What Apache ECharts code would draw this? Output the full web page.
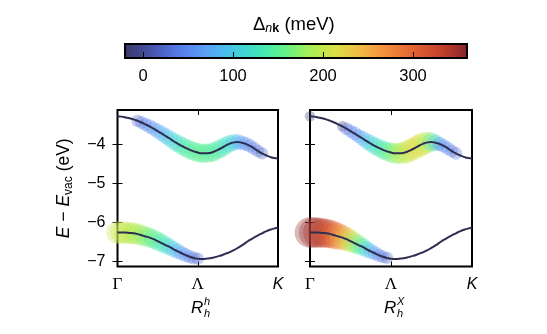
<!DOCTYPE html>
<html>
<head>
<meta charset="utf-8">
<script src="https://cdn.jsdelivr.net/npm/echarts@6/dist/echarts.min.js"></script>
<style>
html,body{margin:0;padding:0;background:#fff;}
#chart{width:547px;height:334px;}
</style>
</head>
<body>
<div id="chart"></div>
<script>
// ---- data ----
const kx = [0,0.025,0.05,0.075,0.1,0.125,0.15,0.175,0.2,0.225,0.25,0.275,0.3,0.325,0.35,0.375,0.4,0.425,0.45,0.475,0.5,
            0.525,0.55,0.575,0.6,0.625,0.65,0.675,0.7,0.725,0.75,0.775,0.8,0.825,0.85,0.875,0.9,0.925,0.95,0.975,1.0];
const conductionBand = [-3.28,-3.29,-3.31,-3.33,-3.36,-3.40,-3.44,-3.49,-3.54,-3.60,-3.66,-3.72,-3.79,-3.85,-3.92,-3.98,-4.04,-4.09,-4.14,-4.18,-4.21,
                        -4.23,-4.23,-4.22,-4.19,-4.14,-4.09,-4.03,-3.98,-3.95,-3.94,-3.96,-3.99,-4.04,-4.10,-4.17,-4.23,-4.28,-4.32,-4.35,-4.36];
const valenceBand = [-6.26,-6.26,-6.26,-6.27,-6.28,-6.30,-6.33,-6.36,-6.39,-6.43,-6.48,-6.53,-6.58,-6.63,-6.69,-6.74,-6.79,-6.84,-6.88,-6.91,-6.93,
                     -6.94,-6.93,-6.92,-6.90,-6.87,-6.84,-6.80,-6.76,-6.71,-6.65,-6.59,-6.52,-6.45,-6.39,-6.33,-6.28,-6.23,-6.19,-6.16,-6.14];
// Delta_nk (meV) at each k point; null = no marker
const deltaCondLeft = [null,null,null,null,null,25,35,45,55,62,70,80,90,100,110,120,130,138,145,148,150,
                       152,150,148,145,140,135,125,115,100,80,65,55,45,40,30,20,null,null,null,null];
const deltaValLeft  = [205,203,200,196,192,186,180,170,160,152,145,133,120,108,95,80,65,55,45,35,25,
                       null,null,null,null,null,null,null,null,null,null,null,null,null,null,null,null,null,null,null,null];
const deltaCondRight = [-10,null,null,null,null,null,null,null,-5,30,40,50,60,75,90,105,120,130,140,150,162,
                        174,185,195,203,210,214,216,212,185,140,100,60,50,45,35,30,null,null,null,null];
const deltaValRight  = [352,350,343,334,324,310,295,275,252,228,203,178,152,126,102,80,60,45,35,25,null,
                        null,null,null,null,null,null,null,null,null,null,null,null,null,null,null,null,null,null,null,null];
const kTickValues = [0,0.5,1];
const kTickLabels = ['Γ','Λ','K'];
const energyTicks = [-7,-6,-5,-4];
const energyRange = [-7.13,-3.12];
const cbTicks = [0,100,200,300];
const cbRange = [-20,360];

// ---- style ----
const cmap = ['#3b3566','#4452a8','#5478e6','#5a9cf6','#45c4e8','#3ee4c0','#5cf28c','#a6ef55','#dce045','#f4b644','#f28a3c','#e06030','#c2402c','#84242a'];
const FONT = '"Liberation Sans", Arial, Helvetica, sans-serif';
const SERIF = '"Liberation Serif", "Times New Roman", serif';
const lineColor = '#2e2e52';

function pts(band){ return kx.map((x,i)=>[x, band[i]]); }
function marks(band, delta){
  const out=[];
  kx.forEach((x,i)=>{ if(delta[i]!==null) out.push([x, band[i], delta[i]]); });
  return out;
}

const chart = echarts.init(document.getElementById('chart'), null, {renderer:'canvas'});

const grids = [
  {left:117.5, top:110, width:160.5, height:156.5},
  {left:310, top:110, width:162, height:156.5},
  {left:125, top:44, width:342, height:14}
];

function kAxis(gi, pos, labels){
  return {
    type:'value', gridIndex:gi, position:pos, min:0, max:1,
    axisLine:{show:false}, splitLine:{show:false},
    axisTick:{show:true, inside:true, length:5, customValues:[0.5], lineStyle:{color:'#000', width:1}},
    axisLabel:{show:labels, customValues:kTickValues, margin:10,
      formatter:function(v){ const i = kTickValues.indexOf(v); const t = kTickLabels[i]; return t==='K' ? '{k|K}' : '{g|'+t+'}'; },
      rich:{ g:{fontFamily:SERIF, fontSize:17, color:'#000'}, k:{fontFamily:FONT, fontStyle:'italic', fontSize:16, color:'#000'} }
    }
  };
}
function eAxis(gi, pos, labels){
  const a = {
    type:'value', gridIndex:gi, position:pos, min:energyRange[0], max:energyRange[1],
    axisLine:{show:false}, splitLine:{show:false},
    axisTick:{show:true, inside:true, length:5, customValues:energyTicks, lineStyle:{color:'#000', width:1}},
    axisLabel:{show:labels, customValues:energyTicks, margin:12, fontFamily:FONT, fontSize:16, color:'#000',
      formatter:function(v){ return String(v).replace('-', '\u2212'); } }
  };
  if(labels){
    a.name = '{i|E} \u2212 {i|E}{s|vac} (eV)';
    a.nameLocation = 'middle';
    a.nameRotate = 90;
    a.nameGap = 43;
    a.nameTextStyle = {fontFamily:FONT, fontSize:17.5, color:'#000',
      rich:{ i:{fontFamily:FONT, fontStyle:'italic', fontSize:17.5, color:'#000'},
             s:{fontFamily:FONT, fontSize:12, color:'#000', padding:[8,0,0,0]} } };
  }
  return a;
}

const option = {
  animation:false,
  backgroundColor:'#fff',
  grid: grids.map(g=>Object.assign({show:true, borderColor:'#000', borderWidth:2, backgroundColor:'transparent', z:0}, g)),
  xAxis: [
    kAxis(0,'bottom',true), kAxis(0,'top',false),
    kAxis(1,'bottom',true), kAxis(1,'top',false),
    { type:'value', gridIndex:2, min:cbRange[0], max:cbRange[1], z:10,
      axisLine:{show:false}, splitLine:{show:false},
      axisTick:{show:true, inside:true, length:6, customValues:cbTicks, lineStyle:{color:'#000', width:1}},
      axisLabel:{customValues:cbTicks, margin:10, fontFamily:FONT, fontSize:16.5, color:'#000'} }
  ],
  yAxis: [
    eAxis(0,'left',true), eAxis(0,'right',false),
    eAxis(1,'left',false), eAxis(1,'right',false),
    { type:'value', gridIndex:2, min:0, max:1, show:false }
  ],
  visualMap: {
    type:'continuous', show:false, min:cbRange[0], max:cbRange[1], dimension:2,
    seriesIndex:[0,1,2,3],
    inRange:{ color:cmap, symbolSize:[10,31] }
  },
  series: [
    {type:'scatter', xAxisIndex:0, yAxisIndex:0, data:marks(conductionBand, deltaCondLeft), clip:false, z:2, itemStyle:{opacity:0.33}},
    {type:'scatter', xAxisIndex:0, yAxisIndex:0, data:marks(valenceBand, deltaValLeft), clip:false, z:2, itemStyle:{opacity:0.33}},
    {type:'scatter', xAxisIndex:2, yAxisIndex:2, data:marks(conductionBand, deltaCondRight), clip:false, z:2, itemStyle:{opacity:0.33}},
    {type:'scatter', xAxisIndex:2, yAxisIndex:2, data:marks(valenceBand, deltaValRight), clip:false, z:2, itemStyle:{opacity:0.33}},
    {type:'line', xAxisIndex:0, yAxisIndex:0, data:pts(conductionBand), smooth:true, showSymbol:false, symbol:'none', z:3, lineStyle:{color:lineColor, width:2}},
    {type:'line', xAxisIndex:0, yAxisIndex:0, data:pts(valenceBand), smooth:true, showSymbol:false, symbol:'none', z:3, lineStyle:{color:lineColor, width:2}},
    {type:'line', xAxisIndex:2, yAxisIndex:2, data:pts(conductionBand), smooth:true, showSymbol:false, symbol:'none', z:3, lineStyle:{color:lineColor, width:2}},
    {type:'line', xAxisIndex:2, yAxisIndex:2, data:pts(valenceBand), smooth:true, showSymbol:false, symbol:'none', z:3, lineStyle:{color:lineColor, width:2}},
    {type:'custom', xAxisIndex:4, yAxisIndex:4, z:1, data:[[cbRange[0], cbRange[1]]],
      encode:{x:[0,1]},
      renderItem:function(params, api){
        const p0 = api.coord([api.value(0), 1]);
        const p1 = api.coord([api.value(1), 0]);
        const stops = cmap.map((c,i)=>({offset:i/(cmap.length-1), color:c}));
        return {type:'rect', shape:{x:p0[0], y:p0[1], width:p1[0]-p0[0], height:p1[1]-p0[1]},
          style:{fill:new echarts.graphic.LinearGradient(0,0,1,0,stops), stroke:'#000', lineWidth:2}};
      }
    }
  ],
  graphic: [
    {type:'text', left:253, top:15, style:{text:'{d|\u0394}{n|n}{k|k} (meV)', font:'18.5px '+FONT, fill:'#000',
      rich:{ d:{fontFamily:FONT, fontSize:18.5, fill:'#000'},
             n:{fontFamily:FONT, fontStyle:'italic', fontSize:12.5, fill:'#000', padding:[9,0,0,0]},
             k:{fontFamily:FONT, fontWeight:'bold', fontSize:12.5, fill:'#000', padding:[9,0,0,0]} }}},
    {type:'text', left:191, top:300, style:{text:'R', font:'italic 17px '+FONT, fill:'#000'}},
    {type:'text', left:204, top:296, style:{text:'h', font:'italic 11px '+FONT, fill:'#000'}},
    {type:'text', left:204, top:308, style:{text:'h', font:'italic 11px '+FONT, fill:'#000'}},
    {type:'text', left:384, top:300, style:{text:'R', font:'italic 17px '+FONT, fill:'#000'}},
    {type:'text', left:397, top:296, style:{text:'X', font:'italic 11px '+FONT, fill:'#000'}},
    {type:'text', left:397, top:308, style:{text:'h', font:'italic 11px '+FONT, fill:'#000'}}
  ]
};
chart.setOption(option);
</script>
</body>
</html>
